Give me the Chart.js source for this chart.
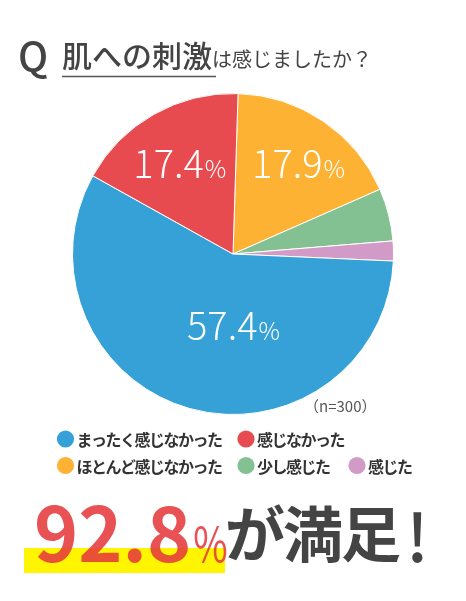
<!DOCTYPE html>
<html lang="ja">
<head>
<meta charset="utf-8">
<script src="https://cdn.jsdelivr.net/npm/chart.js@4.4.1/dist/chart.umd.min.js"></script>
<style>
  html, body { margin: 0; padding: 0; background: #fff; }
  #chart { display: block; }
</style>
</head>
<body>
<canvas id="chart" width="466" height="601"></canvas>
<script>
// slice order is clockwise from 12 o'clock
const categories = ['ほとんど感じなかった', '少し感じた', '感じた', 'まったく感じなかった', '感じなかった'];
const shares = [17.9, 5.3, 2.0, 57.4, 17.4];
const sliceColors = ['#fdb233', '#83c192', '#d29bc7', '#35a1d7', '#e84b4f'];
const shownLabels = ['17.9', null, null, '57.4', '17.4'];
const legendRows = [[3, 4], [0, 1, 2]];
const sampleNote = '（n=300）';
const headline = '92.8';

const JP = '"Noto Sans CJK JP", "Noto Sans", sans-serif';

const page = {
  id: 'page',
  afterDraw(chart, args, opts) {
    const ctx = chart.ctx;
    const arc0 = chart.getDatasetMeta(0).data[0];
    const cx = arc0.x, cy = arc0.y, R = arc0.outerRadius;
    ctx.save();

    // slice percentages
    ctx.fillStyle = '#fff';
    ctx.textBaseline = 'alphabetic';
    shownLabels.forEach((txt, i) => {
      const at = opts.labelAt[i];
      if (!txt || !at) return;
      const a = at.a * Math.PI / 180;
      const x = cx + Math.sin(a) * R * at.r;
      const y = cy - Math.cos(a) * R * at.r;
      ctx.font = '300 38px ' + JP;
      const w1 = ctx.measureText(txt).width;
      ctx.font = '300 24px ' + JP;
      const w2 = ctx.measureText('%').width;
      const x0 = x - (w1 + w2) / 2;
      ctx.font = '300 38px ' + JP;
      ctx.fillText(txt, x0, y + 14);
      ctx.font = '300 24px ' + JP;
      ctx.fillText('%', x0 + w1 + 1, y + 14);
    });

    // title
    ctx.fillStyle = '#444';
    ctx.font = '500 40px ' + JP;
    ctx.fillText('Q', 18, 71);
    ctx.font = '500 30px ' + JP;
    ctx.fillText('肌への刺激', 62, 67);
    const tw = ctx.measureText('肌への刺激').width;
    ctx.font = '400 20px ' + JP;
    ctx.fillText('は感じましたか？', 62 + tw, 67);
    ctx.strokeStyle = '#555';
    ctx.lineWidth = 1.5;
    ctx.beginPath();
    ctx.moveTo(62, 76.5);
    ctx.lineTo(216, 76.5);
    ctx.stroke();

    // sample size
    ctx.fillStyle = '#555';
    ctx.font = '400 15px ' + JP;
    ctx.textBaseline = 'middle';
    ctx.fillText(sampleNote, 304, 406);

    // legend
    ctx.font = '700 16px ' + JP;
    ctx.letterSpacing = '-1.5px';
    legendRows.forEach((row, r) => {
      const y = opts.legendY[r];
      row.forEach((idx, c) => {
        const x = opts.legendX[c];
        ctx.fillStyle = sliceColors[idx];
        ctx.beginPath();
        ctx.arc(x, y, 8.6, 0, Math.PI * 2);
        ctx.fill();
        ctx.fillStyle = '#333';
        ctx.fillText(categories[idx], x + 11, y + 1);
      });
    });
    ctx.letterSpacing = '0px';

    // bottom headline
    ctx.fillStyle = '#fff500';
    ctx.fillRect(24, 548, 201, 25);
    ctx.textBaseline = 'alphabetic';
    ctx.fillStyle = 'rgba(229, 58, 62, 0.88)';
    ctx.font = '700 75px ' + JP;
    ctx.fillText(headline, 34, 562);
    const hw = ctx.measureText(headline).width;
    ctx.save();
    ctx.translate(34 + hw + 2, 562);
    ctx.scale(0.78, 1);
    ctx.font = '400 48px ' + JP;
    ctx.fillText('%', 0, 0);
    ctx.restore();
    ctx.fillStyle = '#444';
    ctx.font = '700 60px ' + JP;
    ctx.letterSpacing = '-2px';
    ctx.fillText('が満足', 225, 557);
    ctx.letterSpacing = '0px';
    ctx.font = '500 66px ' + JP;
    ctx.fillText('!', 406, 562);

    ctx.restore();
  }
};

new Chart(document.getElementById('chart'), {
  type: 'pie',
  data: {
    labels: categories,
    datasets: [{
      data: shares,
      backgroundColor: sliceColors,
      borderColor: '#fff',
      borderWidth: 1
    }]
  },
  options: {
    responsive: false,
    animation: false,
    rotation: 1.8,
    layout: { padding: { left: 72, right: 72, top: 93, bottom: 186 } },
    plugins: {
      legend: { display: false },
      tooltip: { enabled: false },
      page: {
        labelAt: [{ a: 36, r: 0.69 }, null, null, { a: 180, r: 0.45 }, { a: 329.3, r: 0.655 }],
        legendX: [65.5, 246, 357],
        legendY: [439, 465.5]
      }
    }
  },
  plugins: [page]
});
</script>
</body>
</html>
